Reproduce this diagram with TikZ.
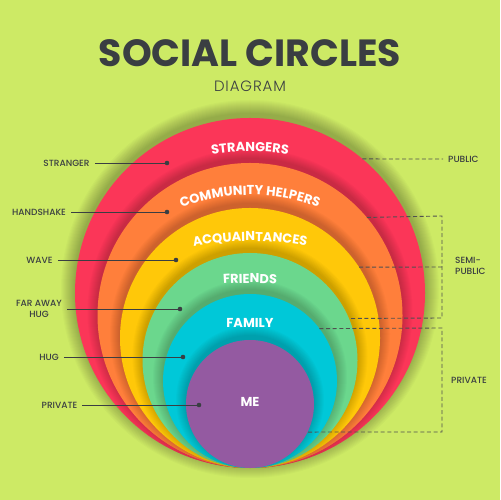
\documentclass[tikz,border=0pt]{standalone}
\usepackage{fontspec}
\setmainfont{Poppins}
\newfontfamily\medfont{Poppins}[UprightFont=* Medium]
\newfontfamily\lightfont{Poppins}[UprightFont=* Light]
\usetikzlibrary{decorations.text,calc}
\definecolor{bg}{HTML}{CDEA65}
\definecolor{cred}{HTML}{FB3658}
\definecolor{corange}{HTML}{FF7F3B}
\definecolor{cyellow}{HTML}{FFC809}
\definecolor{cgreen}{HTML}{6BD78D}
\definecolor{ccyan}{HTML}{00C8D8}
\definecolor{cpurple}{HTML}{945AA1}
\definecolor{ink}{HTML}{3A3E42}
\definecolor{dashc}{HTML}{505050}
\newcommand\softshadow[4]{%
  \foreach \k in {1,...,#4}{\fill[black,opacity=0.02] (#1,#2+4) circle[radius=#3bp+\k*1bp];}}
\newcommand\cfont{\color{white}\bfseries\fontsize{13}{13}\selectfont}
\begin{document}
\begin{tikzpicture}[x=1bp,y=1bp,
  ring/.style={circle,inner sep=0pt,outer sep=0pt,minimum size=#1},
  lbl/.style={font=\medfont\fontsize{9}{10.5}\selectfont, text=ink, inner xsep=5bp, inner ysep=1bp},
  dotnode/.style={circle,fill=ink,inner sep=0pt,minimum size=4.6bp},
  conn/.style={draw=ink,line width=0.9bp},
  brk/.style={draw=dashc,line width=0.9bp,dash pattern=on 4bp off 2.6bp},
  rlbl/.style={font=\medfont\fontsize{9}{10.5}\selectfont, text=ink, inner sep=0pt, anchor=west},
  ctext/.style={font=\cfont, text=white, inner sep=0pt, anchor=base},
  ]
\fill[bg] (0,0) rectangle (500,500);
\useasboundingbox (0,0) rectangle (500,500);

% title
\node[font=\fontsize{38}{38}\selectfont\bfseries, text=ink, anchor=base, inner sep=0pt] (title) at (250,433) {SOCIAL CIRCLES};
\node[font=\lightfont\fontsize{15}{15}\selectfont\addfontfeature{LetterSpace=6}, text=ink, anchor=base, inner sep=0pt] (subtitle) at (250,408) {DIAGRAM};

% circles with shadows
\softshadow{250}{207}{175}{14}
\node[ring=350bp, fill=cred] (strangers) at (250,207) {};
\begin{scope}
  \clip (250,207) circle[radius=175bp];
  \softshadow{250}{184.5}{152.5}{10}
\end{scope}
\node[ring=305bp, fill=corange] (helpers) at (250,184.5) {};
\begin{scope}
  \clip (250,184.5) circle[radius=152.5bp];
  \softshadow{250}{162}{130}{10}
\end{scope}
\node[ring=260bp, fill=cyellow] (acq) at (250,162) {};
\begin{scope}
  \clip (250,162) circle[radius=130bp];
  \softshadow{250}{139.5}{107.5}{10}
\end{scope}
\node[ring=215bp, fill=cgreen] (friends) at (250,139.5) {};
\begin{scope}
  \clip (250,139.5) circle[radius=107.5bp];
  \softshadow{250}{119}{87}{10}
\end{scope}
\node[ring=174bp, fill=ccyan] (family) at (250,119) {};
\begin{scope}
  \clip (250,119) circle[radius=87bp];
  \softshadow{250}{96}{64}{10}
\end{scope}
\node[ring=128bp, fill=cpurple] (me) at (250,96) {};

% circle texts
\path[decorate,decoration={text along path,text align=center,text={|\cfont|STRANGERS}}]
  ($(250,108.5)+(115:240bp)$) arc[start angle=115,end angle=65,radius=240bp];
\path[decorate,decoration={text along path,text align=center,text={|\cfont|COMMUNITY HELPERS}}]
  ($(250,115)+(130:190bp)$) arc[start angle=130,end angle=50,radius=190bp];
\path[decorate,decoration={text along path,text align=center,text={|\cfont|ACQUAINTANCES}}]
  ($(250,-41)+(110:300bp)$) arc[start angle=110,end angle=70,radius=300bp];
\path[decorate,decoration={text along path,text align=center,text={|\cfont|FRIENDS}}]
  ($(250,-183)+(100:400bp)$) arc[start angle=100,end angle=80,radius=400bp];
\node[ctext] (famtxt) at (250,172) {FAMILY};
\node[ctext] (metxt) at (250,93) {ME};

% left labels
\node[dotnode] (d1) at (167,337) {};
\node[lbl] (l1) at (66.5,337) {STRANGER};
\draw[conn] (l1) -- (d1);
\node[dotnode] (d2) at (167,288) {};
\node[lbl] (l2) at (39,288) {HANDSHAKE};
\draw[conn] (l2) -- (d2);
\node[dotnode] (d3) at (176,240) {};
\node[lbl] (l3) at (39.5,240) {WAVE};
\draw[conn] (l3) -- (d3);
\node[dotnode] (d4) at (180,191) {};
\node[lbl,align=center] (l4) at (39,191) {FAR AWAY\\HUG};
\draw[conn] (l4) -- (d4);
\node[dotnode] (d5) at (183,143) {};
\node[lbl] (l5) at (49,143) {HUG};
\draw[conn] (l5) -- (d5);
\node[dotnode] (d6) at (199,95) {};
\node[lbl] (l6) at (59.5,95) {PRIVATE};
\draw[conn] (l6) -- (d6);

% right brackets
\coordinate (pubend) at (443,341);
\draw[brk] (strangers.50) -- (pubend);
\node[rlbl] (pub) at (448,341) {PUBLIC};

\coordinate (sp1) at (442,284);
\coordinate (sp2) at (442,233);
\coordinate (sp3) at (442,182);
\draw[brk] (helpers.40.7) -- (sp1) -- (sp3) -- (friends.23.3);
\draw[brk] (acq.33.1) -- (sp2);
\node[rlbl,align=left] (semi) at (455,234) {SEMI-\\PUBLIC};

\coordinate (pr1) at (442,172);
\coordinate (pr2) at (442,68);
\draw[brk] (family.37.5) -- (pr1) -- (pr2) -- (me.-26);
\node[rlbl] (priv) at (451,120) {PRIVATE};
\end{tikzpicture}
\end{document}
